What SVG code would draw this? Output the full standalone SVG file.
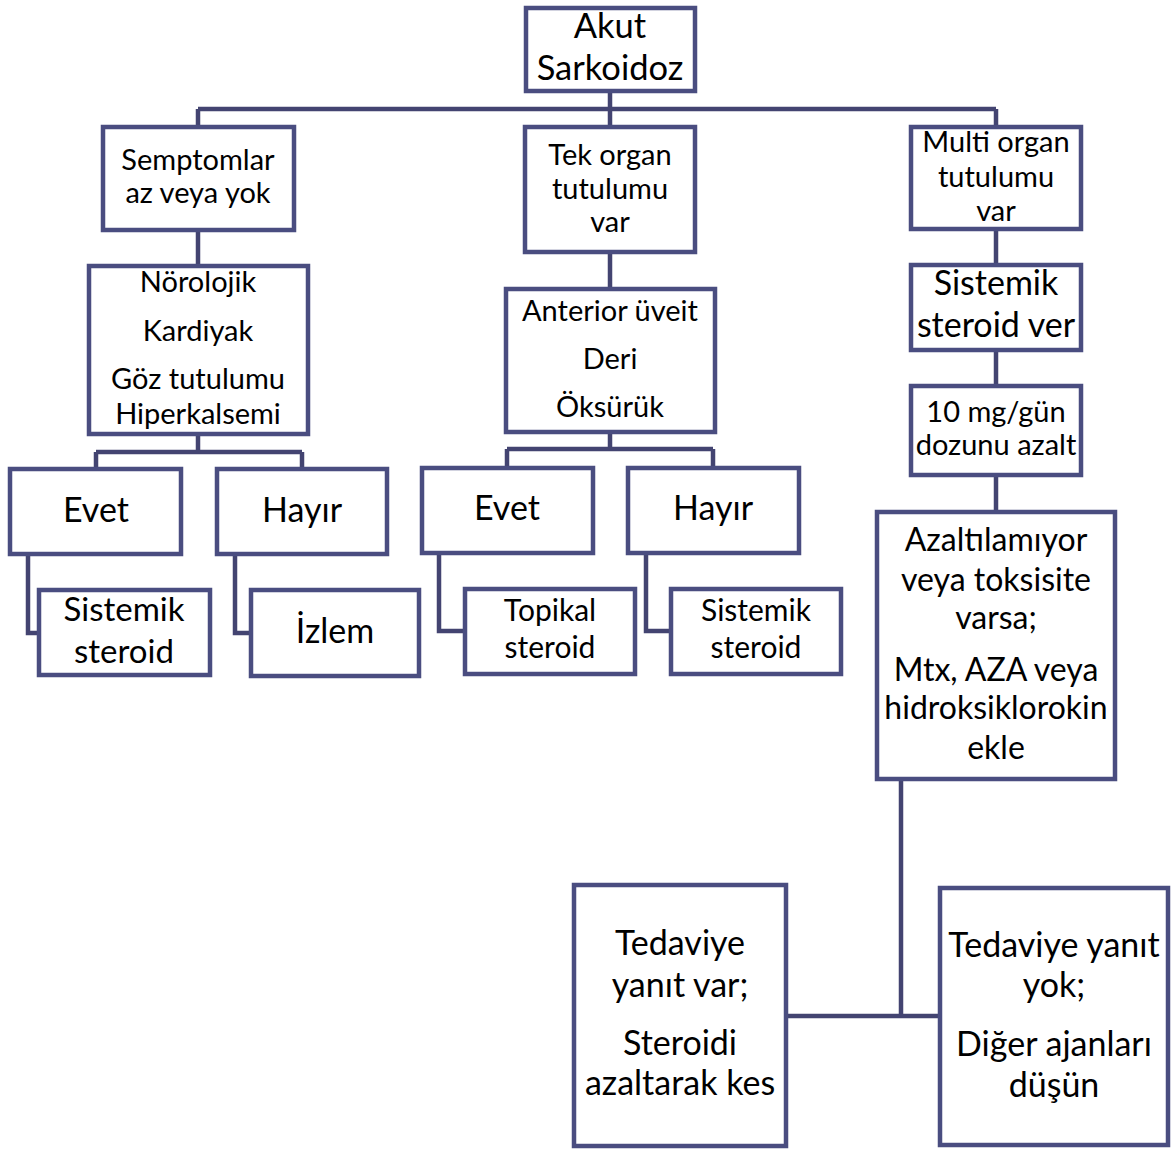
<svg xmlns="http://www.w3.org/2000/svg" width="1171" height="1151" viewBox="0 0 1171 1151">
<style>
.box{fill:#ffffff;stroke:#4a4d80;stroke-width:4.5}
.con{fill:none;stroke:#434471;stroke-width:4.5}
text{font-family:Lato,"Open Sans","Liberation Sans",sans-serif;fill:#000;text-anchor:middle}
.s29{font-size:29px}.s30{font-size:30px}.s32{font-size:32px}.s33{font-size:33px}.s34{font-size:34px}.s345{font-size:34.5px}
</style>
<rect width="1171" height="1151" fill="#ffffff"/>
<g id="connectors">
<path class="con" d="M610 91V109M198 109H996M198 109V127M610 109V127M996 109V127"/>
<path class="con" d="M198 230V266M198 434V452M96 452H302M96 452V469M302 452V469"/>
<path class="con" d="M28 554V633H39M235 554V633H251"/>
<path class="con" d="M610 252V289M610 432V449M507 449H713M507 449V468M713 449V468"/>
<path class="con" d="M439 553V631H465M646 553V631H671"/>
<path class="con" d="M996 229V265M996 350V386M996 475V512"/>
<path class="con" d="M901 779V1016M786 1016H940"/>
</g>
<g id="akut"><rect class="box" x="526" y="8" width="169" height="83"/><text class="s345" x="610" y="38">Akut</text><text class="s345" x="610" y="80">Sarkoidoz</text></g>
<g id="semptomlar"><rect class="box" x="103" y="127" width="191" height="103"/><text class="s29" x="198" y="170">Semptomlar</text><text class="s29" x="198" y="203">az veya yok</text></g>
<g id="tekorgan"><rect class="box" x="525" y="127" width="170" height="125"/><text class="s29" x="610" y="165">Tek organ</text><text class="s29" x="610" y="199">tutulumu</text><text class="s29" x="610" y="232">var</text></g>
<g id="multiorgan"><rect class="box" x="911" y="127" width="170" height="102"/><text class="s29" x="996" y="152">Multi organ</text><text class="s29" x="996" y="187">tutulumu</text><text class="s29" x="996" y="221">var</text></g>
<g id="sistemikver"><rect class="box" x="911" y="265" width="170" height="85"/><text class="s34" x="996" y="295">Sistemik</text><text class="s34" x="996" y="337">steroid ver</text></g>
<g id="doz"><rect class="box" x="911" y="386" width="170" height="89"/><text class="s29" x="996" y="422">10 mg/gün</text><text class="s29" x="996" y="455">dozunu azalt</text></g>
<g id="azalt"><rect class="box" x="877" y="512" width="238" height="267"/><text class="s32" x="996" y="551">Azaltılamıyor</text><text class="s32" x="996" y="591">veya toksisite</text><text class="s32" x="996" y="629">varsa;</text><text class="s32" x="996" y="681">Mtx, AZA veya</text><text class="s32" x="996" y="719">hidroksiklorokin</text><text class="s32" x="996" y="759">ekle</text></g>
<g id="norolojik"><rect class="box" x="89" y="266" width="219" height="168"/><text class="s29" x="198" y="292">Nörolojik</text><text class="s29" x="198" y="341">Kardiyak</text><text class="s29" x="198" y="389">Göz tutulumu</text><text class="s29" x="198" y="424">Hiperkalsemi</text></g>
<g id="evet1"><rect class="box" x="10" y="469" width="171" height="85"/><text class="s34" x="96" y="522">Evet</text></g>
<g id="hayir1"><rect class="box" x="217" y="469" width="170" height="85"/><text class="s34" x="302" y="522">Hayır</text></g>
<g id="sistemik1"><rect class="box" x="39" y="590" width="171" height="85"/><text class="s33" x="124" y="621">Sistemik</text><text class="s33" x="124" y="663">steroid</text></g>
<g id="izlem"><rect class="box" x="251" y="590" width="168" height="86"/><text class="s34" x="335" y="643">İzlem</text></g>
<g id="anterior"><rect class="box" x="506" y="289" width="209" height="143"/><text class="s29" x="610" y="321">Anterior üveit</text><text class="s29" x="610" y="369">Deri</text><text class="s29" x="610" y="417">Öksürük</text></g>
<g id="evet2"><rect class="box" x="422" y="468" width="171" height="85"/><text class="s34" x="507" y="520">Evet</text></g>
<g id="hayir2"><rect class="box" x="628" y="468" width="171" height="85"/><text class="s34" x="713" y="520">Hayır</text></g>
<g id="topikal"><rect class="box" x="465" y="589" width="170" height="85"/><text class="s30" x="550" y="621">Topikal</text><text class="s30" x="550" y="658">steroid</text></g>
<g id="sistemik2"><rect class="box" x="671" y="589" width="170" height="85"/><text class="s30" x="756" y="621">Sistemik</text><text class="s30" x="756" y="658">steroid</text></g>
<g id="yanitvar"><rect class="box" x="574" y="885" width="212" height="261"/><text class="s34" x="680" y="955">Tedaviye</text><text class="s34" x="680" y="997">yanıt var;</text><text class="s34" x="680" y="1055">Steroidi</text><text class="s34" x="680" y="1095">azaltarak kes</text></g>
<g id="yanityok"><rect class="box" x="940" y="888" width="228" height="257"/><text class="s34" x="1054" y="957">Tedaviye yanıt</text><text class="s34" x="1054" y="997">yok;</text><text class="s34" x="1054" y="1056">Diğer ajanları</text><text class="s34" x="1054" y="1097">düşün</text></g>
</svg>
